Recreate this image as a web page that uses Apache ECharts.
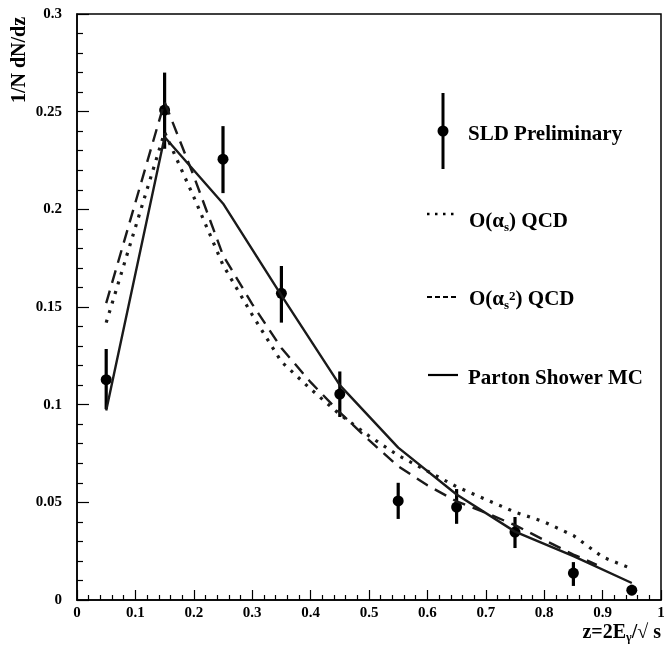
<!DOCTYPE html>
<html>
<head>
<meta charset="utf-8">
<script src="https://cdn.jsdelivr.net/npm/echarts@6/dist/echarts.min.js"></script>
<style>
  html, body { margin: 0; padding: 0; background: #fff; }
  #chart { width: 665px; height: 645px; }
</style>
</head>
<body>
<div id="chart"></div>
<script>
// SLD data points (bin centres, value, error bar ends)
const zBins = [0.05, 0.15, 0.25, 0.35, 0.45, 0.55, 0.65, 0.75, 0.85, 0.95];
const sldValue = [0.1128, 0.2508, 0.2257, 0.157, 0.1054, 0.0507, 0.0476, 0.0348, 0.0138, 0.005];
const sldHigh = [0.1285, 0.270, 0.2426, 0.171, 0.117, 0.060, 0.0568, 0.0425, 0.0194, 0.0078];
const sldLow = [0.0977, 0.231, 0.2083, 0.142, 0.0937, 0.0415, 0.039, 0.0266, 0.0072, 0.0025];

// O(alpha_s) QCD (dotted)
const qcd1X = [0.05, 0.15, 0.2, 0.25, 0.3, 0.35, 0.4, 0.45, 0.5, 0.55, 0.6, 0.65, 0.7, 0.75, 0.8, 0.85, 0.9, 0.95];
const qcd1Y = [0.142, 0.2395, 0.2063, 0.1715, 0.146, 0.122, 0.108, 0.095, 0.084, 0.074, 0.066, 0.058, 0.0515, 0.045, 0.040, 0.033, 0.022, 0.016];

// O(alpha_s^2) QCD (dashed)
const qcd2X = [0.05, 0.15, 0.2, 0.25, 0.3, 0.35, 0.4, 0.45, 0.5, 0.55, 0.6, 0.65, 0.7, 0.75, 0.8, 0.85, 0.89];
const qcd2Y = [0.152, 0.255, 0.217, 0.1765, 0.1515, 0.129, 0.1115, 0.0961, 0.0818, 0.0685, 0.0587, 0.0505, 0.0447, 0.0383, 0.0307, 0.0233, 0.018];

// Parton Shower MC (solid)
const mcX = [0.05, 0.15, 0.25, 0.35, 0.45, 0.55, 0.65, 0.75, 0.85, 0.95];
const mcY = [0.097, 0.237, 0.203, 0.156, 0.110, 0.078, 0.054, 0.035, 0.0225, 0.0087];

const xTicks = { min: 0, max: 1, interval: 0.1 };
const yTicks = { min: 0, max: 0.3, interval: 0.05 };

const serif = '"Liberation Serif", "Times New Roman", serif';
const ink = '#000';

const chart = echarts.init(document.getElementById('chart'));

const zip = (xs, ys) => xs.map((x, i) => [x, ys[i]]);

const option = {
  animation: false,
  backgroundColor: '#fff',
  grid: {
    left: 77, top: 14, right: 4, bottom: 45,
    show: true, borderColor: ink, borderWidth: 1.5,
    containLabel: false, outerBoundsMode: 'none'
  },
  xAxis: {
    type: 'value',
    min: xTicks.min, max: xTicks.max, interval: xTicks.interval,
    axisLine: { lineStyle: { color: ink, width: 1.5 } },
    axisTick: { inside: true, length: 10, lineStyle: { color: ink, width: 1.2 } },
    minorTick: { show: true, splitNumber: 5, length: 5, lineStyle: { color: ink, width: 1.2 } },
    splitLine: { show: false },
    minorSplitLine: { show: false },
    axisLabel: { color: '#000', fontFamily: serif, fontWeight: 'bold', fontSize: 15, margin: 6 }
  },
  yAxis: {
    type: 'value',
    min: yTicks.min, max: yTicks.max, interval: yTicks.interval,
    axisLine: { show: true, lineStyle: { color: ink, width: 1.5 } },
    axisTick: { show: true, inside: true, length: 12, lineStyle: { color: ink, width: 1.2 } },
    minorTick: { show: true, splitNumber: 5, length: 6, lineStyle: { color: ink, width: 1.2 } },
    splitLine: { show: false },
    minorSplitLine: { show: false },
    axisLabel: { color: '#000', fontFamily: serif, fontWeight: 'bold', fontSize: 15, margin: 15 }
  },
  series: [
    {
      name: 'O(as) QCD',
      type: 'line',
      data: zip(qcd1X, qcd1Y),
      showSymbol: false,
      lineStyle: { color: '#1a1a1a', width: 3.2, type: [3, 7] }
    },
    {
      name: 'O(as2) QCD',
      type: 'line',
      data: zip(qcd2X, qcd2Y),
      showSymbol: false,
      lineStyle: { color: '#1a1a1a', width: 2.4, type: [13, 8] }
    },
    {
      name: 'Parton Shower MC',
      type: 'line',
      data: zip(mcX, mcY),
      showSymbol: false,
      lineStyle: { color: '#1a1a1a', width: 2.4 }
    },
    {
      name: 'SLD errors',
      type: 'custom',
      data: zBins.map((z, i) => [z, sldLow[i], sldHigh[i]]),
      encode: { x: 0, y: [1, 2] },
      renderItem: (params, api) => {
        const top = api.coord([api.value(0), api.value(2)]);
        const bot = api.coord([api.value(0), api.value(1)]);
        return {
          type: 'line',
          shape: { x1: top[0], y1: top[1], x2: bot[0], y2: bot[1] },
          style: { stroke: '#000', lineWidth: 3.2 }
        };
      }
    },
    {
      name: 'SLD Preliminary',
      type: 'scatter',
      data: zip(zBins, sldValue),
      symbol: 'circle',
      symbolSize: 11,
      itemStyle: { color: '#000', opacity: 1 }
    }
  ],
  graphic: [
    // axis titles
    {
      type: 'text', x: 20, y: 60, rotation: Math.PI / 2,
      style: { text: '1/N dN/dz', font: 'bold 20px ' + serif, fill: '#000', textAlign: 'center', textVerticalAlign: 'middle' }
    },
    {
      type: 'text', x: 661, y: 633,
      style: {
        text: 'z=2E{sub|γ}/√ s', font: 'bold 20px ' + serif, fill: '#000',
        textAlign: 'right', textVerticalAlign: 'middle',
        rich: { sub: { font: 'bold 12px ' + serif, fill: '#000', padding: [10, 0, 0, 0] } }
      }
    },
    // legend: SLD Preliminary
    { type: 'line', shape: { x1: 443, y1: 93, x2: 443, y2: 169 }, style: { stroke: '#000', lineWidth: 3 } },
    { type: 'circle', shape: { cx: 443, cy: 131, r: 5.5 }, style: { fill: '#000' } },
    {
      type: 'text', x: 468, y: 135,
      style: { text: 'SLD Preliminary', font: 'bold 21px ' + serif, fill: '#000', textVerticalAlign: 'middle' }
    },
    // legend: O(as) QCD
    { type: 'line', shape: { x1: 427, y1: 214, x2: 455, y2: 214 }, style: { stroke: ink, lineWidth: 2.5, lineDash: [2.5, 5.5] } },
    {
      type: 'text', x: 469, y: 222,
      style: {
        text: 'O(α{sub|s}) QCD', font: 'bold 21px ' + serif, fill: '#000', textVerticalAlign: 'middle',
        rich: { sub: { font: 'bold 13px ' + serif, fill: '#000', padding: [12, 0, 0, 0] } }
      }
    },
    // legend: O(as^2) QCD
    { type: 'line', shape: { x1: 427, y1: 297, x2: 457, y2: 297 }, style: { stroke: ink, lineWidth: 2, lineDash: [5, 3] } },
    {
      type: 'text', x: 469, y: 300,
      style: {
        text: 'O(α{sub|s}{sup|2}) QCD', font: 'bold 21px ' + serif, fill: '#000', textVerticalAlign: 'middle',
        rich: {
          sub: { font: 'bold 13px ' + serif, fill: '#000', padding: [12, 0, 0, 0] },
          sup: { font: 'bold 13px ' + serif, fill: '#000', padding: [0, 0, 6, 0] }
        }
      }
    },
    // legend: Parton Shower MC
    { type: 'line', shape: { x1: 428, y1: 375, x2: 458, y2: 375 }, style: { stroke: ink, lineWidth: 2.2 } },
    {
      type: 'text', x: 468, y: 379,
      style: { text: 'Parton Shower MC', font: 'bold 21px ' + serif, fill: '#000', textVerticalAlign: 'middle' }
    }
  ]
};

chart.setOption(option);
</script>
</body>
</html>
